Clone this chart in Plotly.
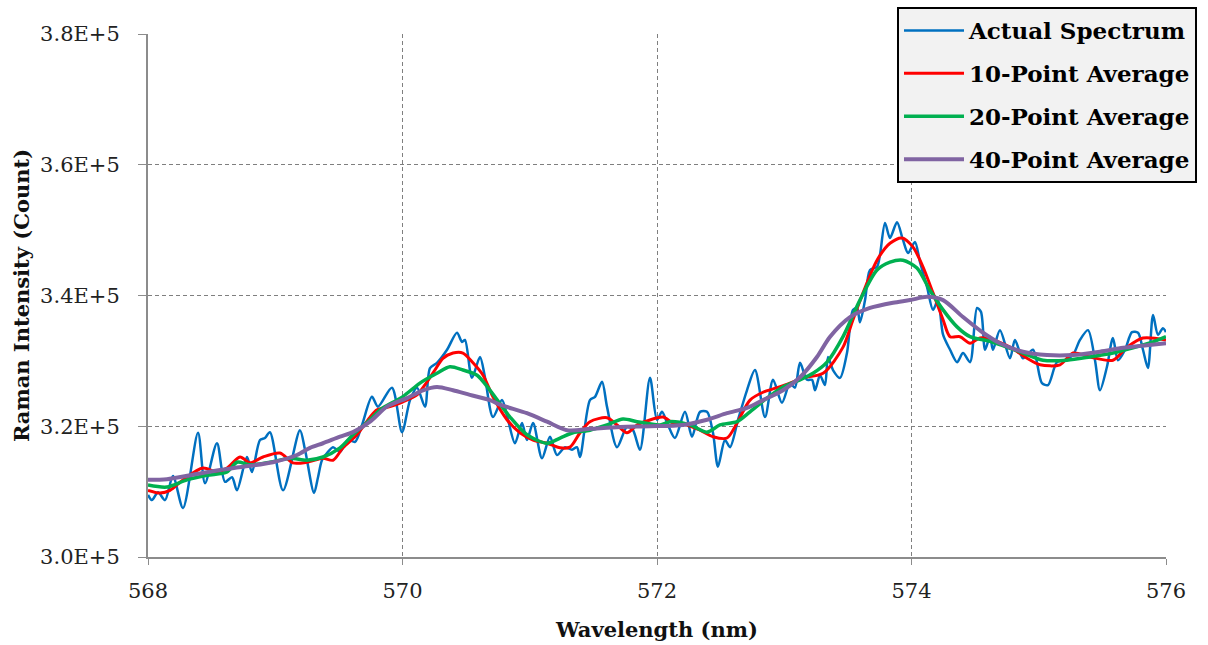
import plotly.graph_objects as go

# ---- data (wavelength in nm, intensity in thousands of counts) ----
blue_x = [568.000, 568.031, 568.079, 568.134, 568.196, 568.275, 568.393, 568.448, 568.542, 568.605,
          568.660, 568.699, 568.778, 568.817, 568.880, 568.919, 568.958, 569.061, 569.194, 569.234,
          569.305, 569.336, 569.367, 569.407, 569.454, 569.509, 569.572, 569.627, 569.682, 569.760,
          569.807, 569.917, 569.996, 570.059, 570.114, 570.177, 570.216, 570.271, 570.350, 570.428,
          570.468, 570.491, 570.546, 570.609, 570.648, 570.711, 570.782, 570.829, 570.884, 570.939,
          570.978, 571.026, 571.096, 571.159, 571.214, 571.277, 571.332, 571.371, 571.395, 571.473,
          571.513, 571.568, 571.607, 571.686, 571.764, 571.811, 571.866, 571.945, 572.000, 572.039,
          572.086, 572.141, 572.220, 572.275, 572.338, 572.393, 572.440, 572.479, 572.534, 572.574,
          572.637, 572.707, 572.770, 572.849, 572.912, 572.982, 573.045, 573.084, 573.124, 573.179,
          573.218, 573.242, 573.281, 573.320, 573.344, 573.383, 573.438, 573.493, 573.540, 573.572,
          573.595, 573.635, 573.674, 573.729, 573.752, 573.792, 573.831, 573.886, 573.933, 573.973,
          574.027, 574.067, 574.122, 574.169, 574.208, 574.248, 574.303, 574.358, 574.405, 574.460,
          574.515, 574.546, 574.578, 574.617, 574.640, 574.695, 574.774, 574.813, 574.876, 574.955,
          575.025, 575.073, 575.143, 575.206, 575.269, 575.324, 575.387, 575.442, 575.481, 575.536,
          575.583, 575.623, 575.678, 575.733, 575.780, 575.819, 575.858, 575.898, 575.937, 575.976,
          576.000]
blue_k = [309.5, 308.7, 309.9, 308.7, 312.4, 307.5, 319.0, 311.3, 317.4, 311.5,
          312.2, 310.2, 315.3, 313.0, 317.9, 318.2, 319.1, 310.2, 319.4, 316.4,
          309.8, 312.2, 314.8, 315.9, 316.8, 316.1, 317.9, 317.6, 320.2, 324.5,
          323.0, 325.9, 319.1, 324.0, 325.9, 323.0, 328.9, 329.7, 331.7, 334.3,
          332.9, 333.2, 327.4, 330.6, 327.5, 321.4, 324.0, 321.0, 317.4, 320.5,
          317.9, 320.5, 315.1, 318.4, 315.6, 316.8, 316.4, 316.8, 315.3, 324.0,
          324.5, 326.8, 323.0, 316.8, 319.9, 319.4, 316.4, 327.4, 321.0, 322.2,
          320.2, 318.2, 322.2, 318.4, 322.2, 322.2, 319.0, 313.8, 317.9, 316.8,
          321.0, 325.5, 328.6, 321.4, 327.1, 323.6, 326.6, 325.9, 329.7, 327.1,
          327.1, 325.5, 327.8, 326.3, 330.6, 328.6, 327.4, 331.2, 337.8, 338.1,
          335.9, 339.3, 343.9, 344.4, 346.2, 351.1, 348.8, 351.2, 348.5, 346.5,
          348.2, 345.1, 341.3, 337.8, 339.3, 334.0, 331.7, 329.8, 331.2, 329.8,
          338.1, 337.5, 331.7, 333.7, 331.7, 334.7, 330.4, 333.2, 330.4, 331.7,
          326.6, 326.3, 329.8, 330.1, 330.9, 333.2, 334.7, 330.1, 325.5, 329.1,
          333.5, 330.1, 331.7, 334.4, 334.3, 331.7, 328.9, 337.0, 334.0, 335.0,
          334.4]

red_x = [568.000, 568.094, 568.173, 568.275, 568.432, 568.542, 568.621, 568.723, 568.802, 568.904,
         569.037, 569.139, 569.249, 569.375, 569.454, 569.532, 569.642, 569.745, 569.800, 569.902,
         570.000, 570.114, 570.193, 570.255, 570.318, 570.397, 570.475, 570.554, 570.633, 570.711,
         570.821, 570.923, 571.026, 571.136, 571.238, 571.316, 571.395, 571.473, 571.607, 571.686,
         571.764, 571.843, 571.921, 572.047, 572.126, 572.236, 572.338, 572.440, 572.550, 572.629,
         572.731, 572.833, 572.943, 573.045, 573.147, 573.305, 573.462, 573.540, 573.619, 573.729,
         573.831, 573.925, 574.012, 574.090, 574.169, 574.248, 574.303, 574.381, 574.460, 574.538,
         574.640, 574.774, 574.908, 575.010, 575.167, 575.269, 575.403, 575.583, 575.694, 575.819,
         576.000]
red_k = [310.2, 309.8, 310.2, 311.8, 313.6, 313.0, 313.6, 315.3, 314.4, 315.3,
         315.9, 314.4, 314.5, 315.1, 314.8, 316.7, 318.7, 321.4, 322.5, 323.0,
         323.7, 324.8, 326.8, 328.6, 330.4, 331.2, 331.2, 329.7, 327.8, 324.5,
         321.0, 319.0, 317.9, 317.4, 316.7, 316.8, 319.0, 320.7, 321.3, 320.2,
         319.0, 320.2, 320.8, 321.4, 320.5, 320.2, 319.4, 318.4, 318.2, 320.5,
         324.0, 325.2, 325.9, 326.6, 327.4, 328.1, 332.1, 336.3, 340.4, 345.4,
         348.0, 348.8, 347.4, 344.4, 340.4, 336.3, 333.7, 333.7, 332.7, 333.5,
         333.2, 332.1, 330.4, 329.4, 329.4, 331.2, 330.6, 330.1, 332.1, 333.5,
         333.2]

green_x = [568.000, 568.149, 568.306, 568.464, 568.621, 568.699, 568.802, 568.958, 569.116, 569.249,
           569.375, 569.509, 569.611, 569.745, 569.823, 570.000, 570.137, 570.271, 570.373, 570.475,
           570.586, 570.688, 570.845, 570.978, 571.136, 571.238, 571.340, 571.473, 571.607, 571.733,
           571.843, 572.024, 572.102, 572.259, 572.393, 572.495, 572.629, 572.731, 572.864, 572.990,
           573.124, 573.226, 573.336, 573.462, 573.595, 573.729, 573.831, 573.933, 574.043, 574.145,
           574.248, 574.358, 574.460, 574.617, 574.876, 575.033, 575.222, 575.403, 575.583, 575.741,
           575.898, 576.000]
green_k = [311.0, 310.7, 311.8, 312.5, 313.0, 314.5, 314.1, 314.5, 315.1, 314.8,
           315.3, 316.7, 318.7, 321.0, 322.5, 324.5, 326.6, 328.1, 329.1, 328.6,
           327.8, 325.5, 321.4, 318.7, 317.4, 318.2, 319.0, 319.4, 320.2, 321.1,
           320.7, 320.2, 320.7, 320.2, 319.1, 320.2, 320.7, 322.2, 324.3, 326.0,
           327.1, 328.1, 329.8, 333.7, 339.3, 343.9, 345.1, 345.4, 344.2, 340.8,
           337.8, 335.2, 333.7, 333.0, 331.2, 330.1, 330.1, 330.6, 331.2, 332.0,
           332.9, 333.7]

purple_x = [568.000, 568.149, 568.330, 568.566, 568.747, 568.982, 569.171, 569.273, 569.375, 569.509,
            569.611, 569.745, 569.878, 570.035, 570.161, 570.271, 570.397, 570.530, 570.688, 570.766,
            570.978, 571.136, 571.293, 571.473, 571.709, 571.945, 572.204, 572.393, 572.550, 572.707,
            572.833, 572.990, 573.124, 573.257, 573.360, 573.517, 573.674, 573.855, 573.988, 574.122,
            574.248, 574.405, 574.562, 574.695, 574.876, 575.065, 575.269, 575.481, 575.663, 575.851,
            576.000]
purple_k = [311.8, 311.9, 312.5, 313.3, 313.8, 314.5, 315.6, 316.7, 317.4, 318.4,
            319.1, 320.7, 323.0, 324.3, 325.5, 326.0, 325.5, 324.8, 324.0, 323.3,
            322.0, 320.7, 319.4, 319.6, 319.9, 320.0, 320.2, 321.0, 322.0, 322.8,
            324.0, 325.5, 327.5, 330.6, 333.7, 336.7, 338.1, 338.9, 339.3, 339.8,
            339.3, 336.7, 334.3, 332.7, 331.4, 330.9, 330.9, 331.4, 332.0, 332.4,
            332.7]

series_names = ["Actual Spectrum", "10-Point Average", "20-Point Average", "40-Point Average"]
series_colors = ["#0070C0", "#FF0000", "#00B050", "#8064A2"]
series_widths = [2.5, 3, 3.5, 4]

y_ticks = [300000, 320000, 340000, 360000, 380000]
y_tick_text = ["3.0E+5", "3.2E+5", "3.4E+5", "3.6E+5", "3.8E+5"]
x_ticks = [568, 570, 572, 574, 576]

FONT = "DejaVu Serif"

fig = go.Figure()
xs = [blue_x, red_x, green_x, purple_x]
ys = [blue_k, red_k, green_k, purple_k]
for i in range(4):
    fig.add_trace(go.Scatter(
        x=xs[i], y=[v * 1000 for v in ys[i]], mode="lines",
        name=f"<b>{series_names[i]}</b>", legendgroup=f"g{i}",
        line=dict(color=series_colors[i], width=series_widths[i], shape="spline", smoothing=0.8),
    ))

grid = dict(showgrid=True, gridcolor="#7f7f7f", gridwidth=1, griddash="4px,3px")
fig.update_xaxes(
    range=[568, 576], tickvals=x_ticks, ticktext=[str(v) for v in x_ticks],
    showline=True, linecolor="#8c8c8c", linewidth=2,
    ticks="outside", ticklen=6, tickcolor="#8c8c8c", tickwidth=1,
    ticklabelstandoff=8,
    tickfont=dict(family=FONT, size=21, color="#222"),
    title=dict(text="<b>Wavelength (nm)</b>", font=dict(family=FONT, size=21, color="#111"), standoff=20),
    zeroline=False, **grid,
)
fig.update_yaxes(
    range=[300000, 380000], tickvals=y_ticks, ticktext=y_tick_text,
    showline=True, linecolor="#8c8c8c", linewidth=2,
    ticks="outside", ticklen=8, tickcolor="#8c8c8c", tickwidth=1,
    ticklabelstandoff=14,
    tickfont=dict(family=FONT, size=21, color="#222"),
    title=dict(text="<b>Raman Intensity (Count)</b>", font=dict(family=FONT, size=21, color="#111"), standoff=5),
    zeroline=False, **grid,
)
fig.update_layout(
    width=1208, height=645,
    margin=dict(l=148, r=42, t=34, b=88, autoexpand=False),
    paper_bgcolor="white", plot_bgcolor="white",
    showlegend=True,
    legend=dict(
        x=(897 - 148) / 1018, y=1 + (34 - 7) / 523, xanchor="left", yanchor="top",
        bgcolor="#F2F2F2", bordercolor="#000000", borderwidth=2,
        font=dict(family=FONT, size=23, color="#000"),
        tracegroupgap=10, traceorder="grouped", itemwidth=60,
    ),
)
fig.write_html("out.html")
